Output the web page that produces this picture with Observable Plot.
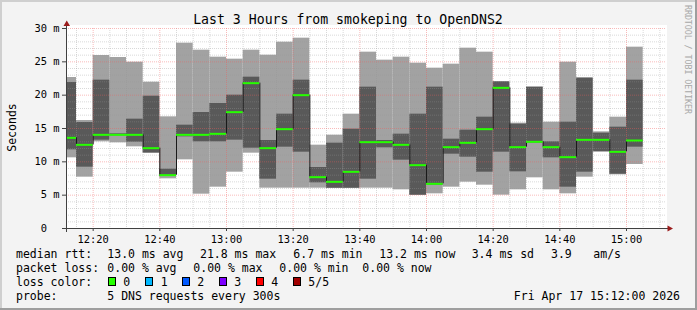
<!DOCTYPE html>
<html><head><meta charset="utf-8">
<script src="https://cdn.jsdelivr.net/npm/d3@7"></script>
<script src="https://cdn.jsdelivr.net/npm/@observablehq/plot@0.6"></script>
<style>
html,body{margin:0;padding:0;background:#f3f3f3;}
#chart{position:relative;width:697px;height:310px;overflow:hidden;}
svg{display:block;}
</style></head><body><div id="chart"></div>
<script>
// ---- data (ms) ----
const binStarts = ["12:10","12:15","12:20","12:25","12:30","12:35","12:40","12:45","12:50","12:55",
  "13:00","13:05","13:10","13:15","13:20","13:25","13:30","13:35","13:40","13:45","13:50","13:55",
  "14:00","14:05","14:10","14:15","14:20","14:25","14:30","14:35","14:40","14:45","14:50","14:55","15:00"];
const ping1 = [10.6,7.7,13.0,12.85,12.25,11.25,7.45,10.3,5.15,6.2,8.45,11.3,6.05,6.05,6.05,6.05,6.0,6.0,6.05,6.05,5.8,4.95,5.2,6.2,6.95,6.5,5.0,5.8,7.6,5.8,5.2,7.7,11.5,8.05,9.6];
const ping2 = [11.8,9.2,13.25,13.9,12.95,11.35,7.8,13.75,13.0,13.0,13.25,12.05,7.4,12.2,11.45,6.85,6.05,6.05,7.4,12.1,10.25,5.0,6.5,11.15,10.7,8.45,11.45,8.5,12.8,10.6,6.2,8.45,11.5,8.15,12.2];
const median = [13.6,12.55,14.05,14.05,14.05,12.05,8.0,14.05,14.05,14.2,17.45,21.8,12.05,14.9,20.0,7.7,7.0,8.5,12.95,12.95,12.55,9.5,6.7,12.2,12.85,14.9,21.1,12.2,13.0,12.2,10.7,13.3,13.3,11.5,13.2];
const ping4 = [21.9,15.9,22.25,14.2,16.4,19.85,8.9,15.5,17.4,18.75,20.0,22.7,13.2,17.15,22.25,9.15,12.8,14.9,21.2,13.2,14.15,17.15,21.2,13.4,14.75,16.7,22.0,15.65,21.2,13.0,15.95,22.55,14.3,15.2,22.25];
const ping5 = [22.65,16.2,25.95,25.65,24.95,21.95,16.75,27.8,26.75,25.7,25.4,26.75,26.0,27.95,28.55,12.5,14.0,17.15,26.45,25.25,25.7,24.8,24.05,24.65,27.05,26.45,22.0,15.8,21.2,15.95,24.95,22.6,14.5,16.7,27.2];
const yTicks = [0,5,10,15,20,25,30];
const xTickLabels = ["12:20","12:40","13:00","13:20","13:40","14:00","14:20","14:40","15:00"];
const timeWindow = ["12:12","15:12"];
const lossColors = ["#26ff00","#00b8ff","#0059ff","#7e00ff","#ff0000","#a10000"];
const lossLabels = ["0","1","2","3","4","5/5"];
const titleText = "Last 3 Hours from smokeping to OpenDNS2";
const legendLine1 = [["median rtt:",16],["13.0 ms avg",107.3],["21.8 ms max",200],["6.7 ms min",293.3],["13.2 ms now",379.3],["3.4 ms sd",471.7],["3.9",551],["am/s",593.3]];
const legendLine2 = [["packet loss:",16],["0.00 % avg",107.3],["0.00 % max",193.3],["0.00 % min",279.3],["0.00 % now",362.3]];
const probeText = "5 DNS requests every 300s";
const dateText = "Fri Apr 17 15:12:00 2026";

// ---- build ----
const day = hm => { const [h, m] = hm.split(":").map(Number); return new Date(2026, 3, 17, h, m); };
const rows = binStarts.map((s, i) => {
  const start = day(s);
  return {start, end: new Date(+start + 5 * 60000), p1: ping1[i], p2: ping2[i], p3: median[i], p4: ping4[i], p5: ping5[i]};
});
const connectors = rows.slice(0, -1).map((r, i) => ({x: r.end, y1: r.p3, y2: rows[i + 1].p3}));
const t0 = day(timeWindow[0]), t1 = day(timeWindow[1]);
const xMinor = d3.timeMinute.every(5).range(new Date(+t0 + 1), t1).filter(d => d.getMinutes() % 20 !== 0);
const xMajor = xTickLabels.map(day);
const yMinor = d3.range(1, 30).filter(v => v % 5 !== 0);
const yMajor = yTicks.filter(v => v > 0);
const minorC = "rgba(150,150,150,0.36)", majorC = "rgba(240,90,90,0.42)";
const font = "'DejaVu Sans Mono', monospace";

const chart = Plot.plot({
  width: 697, height: 310,
  marginLeft: 66, marginRight: 31, marginTop: 28, marginBottom: 82,
  style: {background: "#f3f3f3", fontFamily: font, fontSize: "10.4px", color: "#000", overflow: "visible"},
  x: {type: "time", domain: [t0, t1]},
  y: {domain: [0, 30]},
  marks: [
    Plot.rectY(rows, {x1: "start", x2: "end", y1: "p1", y2: "p5", fill: "#a2a2a2", clip: true}),
    Plot.rectY(rows, {x1: "start", x2: "end", y1: "p2", y2: "p4", fill: "#595959", clip: true}),
    Plot.ruleY(yMinor, {stroke: minorC, strokeDasharray: "1,1"}),
    Plot.ruleX(xMinor, {stroke: minorC, strokeDasharray: "1,1"}),
    Plot.ruleY(yMajor, {stroke: majorC, strokeDasharray: "1,1"}),
    Plot.ruleX(xMajor, {stroke: majorC, strokeDasharray: "1,1"}),
    Plot.ruleX(connectors, {x: "x", y1: "y1", y2: "y2", stroke: "#1a1a1a", strokeWidth: 1}),
    Plot.ruleY(rows, {y: "p3", x1: "start", x2: "end", stroke: lossColors[0], strokeWidth: 2, clip: true}),
    Plot.axisY(yTicks, {tickSize: 4, tickPadding: 3, label: null, fontSize: 10.4, stroke: "#404040",
      tickFormat: d => d === 0 ? "0\u00a0\u00a0" : d + " m"}),
    Plot.axisX(xMajor, {tickSize: 3, tickPadding: 4, label: null, fontSize: 10.4, stroke: "#404040",
      tickFormat: d3.timeFormat("%H:%M")})
  ]
});
document.getElementById("chart").appendChild(chart);

const svg = d3.select(chart);
const sx = chart.scale("x"), sy = chart.scale("y");
const X0 = sx.apply(t0), X1 = sx.apply(t1), Y0 = sy.apply(0), Y30 = sy.apply(30);
// white canvas behind everything
svg.insert("rect", ":first-child").attr("x", X0).attr("y", Y30 - 3).attr("width", X1 - X0 + 1).attr("height", Y0 - Y30 + 3).attr("fill", "#fff");
svg.insert("rect", ":first-child").attr("width", 697).attr("height", 310).attr("fill", "#f3f3f3");
// axis lines and arrows
const ax = X0 + 0.5, ay = Y0 + 0.5;
svg.append("line").attr("x1", ax).attr("x2", ax).attr("y1", Y0 + 4).attr("y2", Y30 - 5).attr("stroke", "#404040");
svg.append("line").attr("x1", X0 - 4).attr("x2", X1 + 3).attr("y1", ay).attr("y2", ay).attr("stroke", "#404040");
svg.append("polygon").attr("points", `${ax - 3},${Y30 - 2} ${ax + 3.5},${Y30 - 2} ${ax + 0.25},${Y30 - 7.5}`).attr("fill", "#9b1c1c");
svg.append("polygon").attr("points", `${X1 + 1.5},${ay - 3} ${X1 + 1.5},${ay + 3} ${X1 + 7},${ay}`).attr("fill", "#9b1c1c");
// border
svg.append("rect").attr("x", 0).attr("y", 0).attr("width", 697).attr("height", 2).attr("fill", "#cfcfcf");
svg.append("rect").attr("x", 0).attr("y", 0).attr("width", 2).attr("height", 310).attr("fill", "#cfcfcf");
svg.append("rect").attr("x", 695).attr("y", 0).attr("width", 2).attr("height", 310).attr("fill", "#9e9e9e");
svg.append("rect").attr("x", 0).attr("y", 308).attr("width", 697).attr("height", 2).attr("fill", "#9e9e9e");
// texts
const txt = (s, x, y, size, opts = {}) => svg.append("text").attr("x", x).attr("y", y)
  .attr("font-family", font).attr("font-size", size).attr("fill", opts.fill || "#000")
  .attr("text-anchor", opts.anchor || "start").attr("transform", opts.transform || null)
  .style("white-space", "pre").text(s);
txt(titleText, 348, 24, 13.2, {anchor: "middle"});
txt("Seconds", 0, 0, 11.5, {anchor: "middle", transform: "translate(15.5,127.5) rotate(-90)"});
txt("RRDTOOL / TOBI OETIKER", 0, 0, 8.3, {fill: "#a8a8a8", transform: "translate(685,5) rotate(90)"})
  .attr("textLength", 109).attr("lengthAdjust", "spacing");
legendLine1.forEach(([s, x]) => txt(s, x, 258, 11.5));
legendLine2.forEach(([s, x]) => txt(s, x, 272, 11.5));
txt("loss color:", 16, 286, 11.5);
const boxX = [108, 145, 182, 219, 256, 293];
const labX = [123.3, 160.7, 197.3, 234.3, 271.3, 308.3];
lossColors.forEach((c, i) => {
  svg.append("rect").attr("x", boxX[i] + 0.5).attr("y", 277.5).attr("width", 7).attr("height", 8).attr("fill", c).attr("stroke", "#000");
  txt(lossLabels[i], labX[i], 286, 11.5);
});
txt("probe:", 16, 300, 11.5);
txt(probeText, 107.3, 300, 11.5);
txt(dateText, 680, 300, 11.5, {anchor: "end"});
</script></body></html>
